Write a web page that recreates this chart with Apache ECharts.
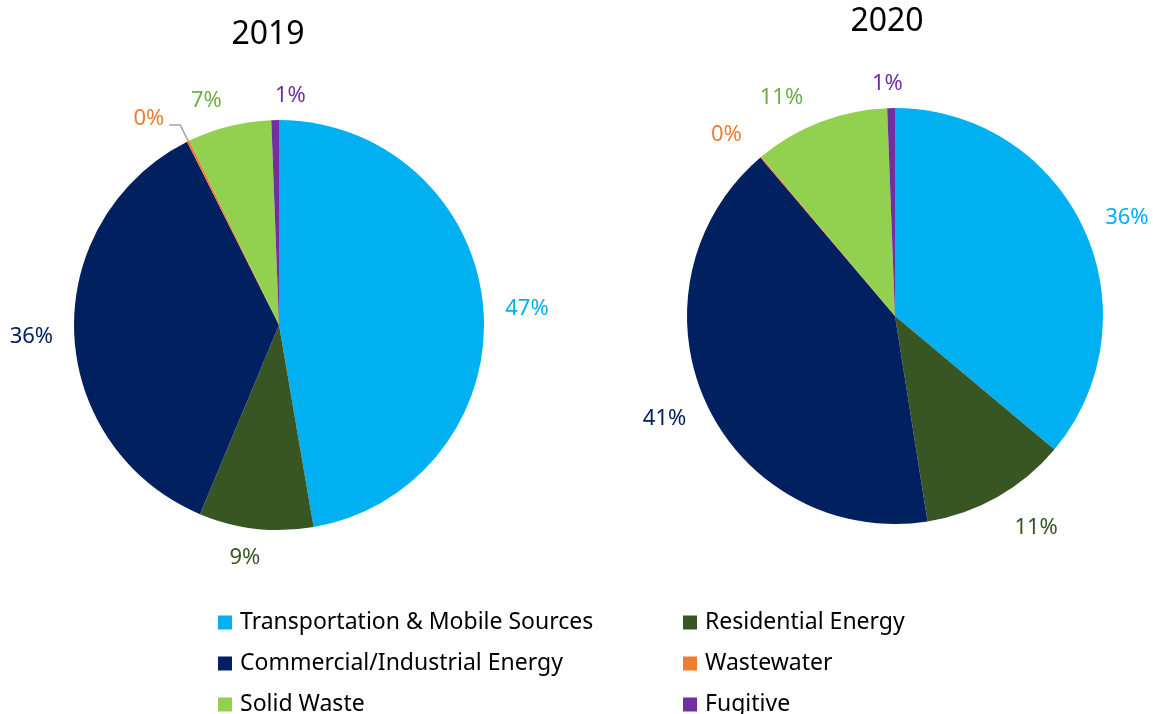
<!DOCTYPE html>
<html>
<head>
<meta charset="utf-8">
<script src="https://cdn.jsdelivr.net/npm/echarts@6/dist/echarts.min.js"></script>
<style>
  html, body { margin: 0; padding: 0; background: #fff; }
  #chart { width: 1153px; height: 714px; }
</style>
</head>
<body>
<div id="chart"></div>
<script>
// categories and shares (%)
const categories = [
  'Transportation & Mobile Sources',
  'Residential Energy',
  'Commercial/Industrial Energy',
  'Wastewater',
  'Solid Waste',
  'Fugitive'
]
const years = ['2019', '2020']
const values2019 = [47.3, 9.0, 36.3, 0.2, 6.6, 0.6]
const values2020 = [36.1, 11.4, 41.3, 0.1, 10.5, 0.6]

const palette = ['#00B0F0', '#375623', '#002060', '#ED7D31', '#92D050', '#7030A0']
const labelColors = ['#00B0F0', '#375623', '#002060', '#ED7D31', '#70AD47', '#7030A0']
const FONT = 'Noto Sans'

// small label nudges (dx, dy) so the % labels sit where the original puts them
const nudge2019 = [[-5, 2], [19, 15], [6, 4], [0, -6], [9, -12], [44, -10]]
const nudge2020 = [[-4, -4], [-3, 19], [6, 10], [3, -12], [1, -11], [25, -10]]

function buildData(values, lineIdx) {
  return values.map(function (v, i) {
    const item = {
      name: categories[i],
      value: v,
      itemStyle: { color: palette[i] },
      label: { color: labelColors[i] },
      labelLine: { show: false }
    }
    if (i === lineIdx) {
      // the only leader line in the picture (2019 wastewater)
      item.labelLine = { show: true, length: 18, length2: 11, lineStyle: { color: '#A6A6A6', width: 1.5 } }
    }
    return item
  })
}

function pieSeries(name, values, center, radius, lineIdx, nudge) {
  return {
    name: name,
    type: 'pie',
    center: center,
    radius: radius,
    startAngle: 90,
    clockwise: true,
    avoidLabelOverlap: false,
    label: {
      show: true,
      position: 'outside',
      overflow: 'none',
      fontFamily: FONT,
      fontSize: 22,
      formatter: function (p) { return Math.round(p.value) + '%' }
    },
    labelLine: { show: false, length: 14, length2: 8 },
    labelLayout: function (p) {
      const n = nudge[p.dataIndex]
      return { dx: n[0], dy: n[1] }
    },
    emphasis: { disabled: true },
    data: buildData(values, lineIdx)
  }
}

const legendText = { fontFamily: FONT, fontSize: 23, color: '#000', lineHeight: 22, padding: [0, 0, 0, 3] }

const chart = echarts.init(document.getElementById('chart'), null, { renderer: 'canvas' })
chart.setOption({
  animation: false,
  backgroundColor: '#fff',
  title: [
    { text: years[0], left: 263, top: 14, textAlign: 'center',
      textStyle: { fontFamily: FONT, fontSize: 32, fontWeight: 'normal', color: '#000' } },
    { text: years[1], left: 882, top: 1, textAlign: 'center',
      textStyle: { fontFamily: FONT, fontSize: 32, fontWeight: 'normal', color: '#000' } }
  ],
  legend: [
    {
      orient: 'vertical', left: 213, top: 606, height: 130,
      itemWidth: 14, itemHeight: 14, itemGap: 18, icon: 'rect',
      textStyle: legendText,
      data: [categories[0], categories[2], categories[4]]
    },
    {
      orient: 'vertical', left: 678, top: 606, height: 130,
      itemWidth: 14, itemHeight: 14, itemGap: 18, icon: 'rect',
      textStyle: legendText,
      data: [categories[1], categories[3], categories[5]]
    }
  ],
  series: [
    pieSeries(years[0], values2019, [279, 325], 205, 3, nudge2019),
    pieSeries(years[1], values2020, [895, 316], 208, -1, nudge2020)
  ]
})
</script>
</body>
</html>
